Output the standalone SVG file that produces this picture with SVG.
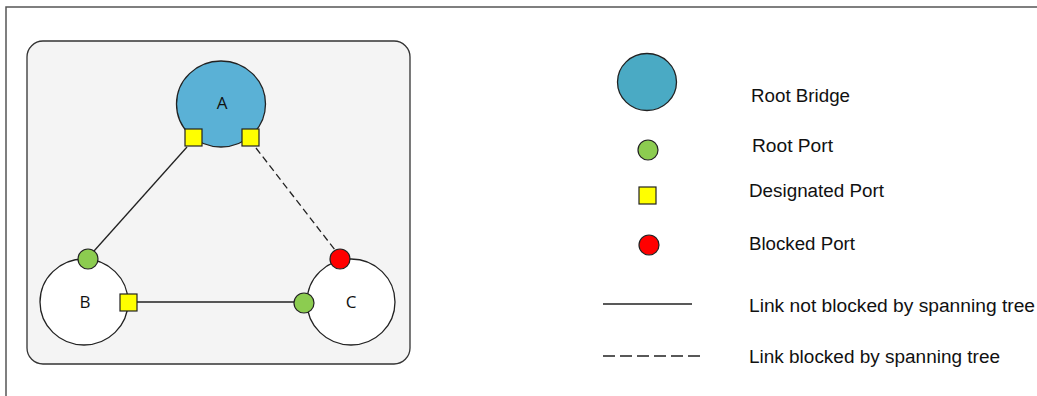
<svg xmlns="http://www.w3.org/2000/svg" width="1037" height="396" viewBox="0 0 1037 396">
<style>
.frame{fill:none;stroke:#555;stroke-width:1.5}
.panel{fill:#f4f4f4;stroke:#333;stroke-width:1.3}
.sw{fill:#fff;stroke:#222;stroke-width:1.3}
.root{fill:#5ab1d6;stroke:#222;stroke-width:1.3}
.rp{fill:#8ccc50;stroke:#222;stroke-width:1.2}
.dp{fill:#ffff00;stroke:#222;stroke-width:1.2}
.bp{fill:#ff0000;stroke:#222;stroke-width:1.2}
.link{stroke:#222;stroke-width:1.3;fill:none}
.blk{stroke:#222;stroke-width:1.3;fill:none;stroke-dasharray:7 4}
.lbl{font-family:"Open Sans","Liberation Sans",sans-serif;font-size:17px;fill:#111;text-anchor:middle}
.leg{font-family:"Liberation Sans",Arial,sans-serif;font-size:18px;fill:#111}
</style>
<path class="frame" d="M6 396 V7 H1037"/>
<rect class="panel" x="27" y="41" width="383" height="323" rx="16"/>
<g id="connectors">
<line class="link" x1="187" y1="147" x2="94" y2="251"/>
<line class="blk" x1="256" y1="148" x2="335" y2="250"/>
<line class="link" x1="137" y1="302" x2="294" y2="302"/>
</g>
<g id="nodeA">
<ellipse class="root" cx="221" cy="104" rx="44.5" ry="43"/>
<text class="lbl" x="222" y="109">A</text>
<rect class="dp" x="185" y="129" width="17" height="17"/>
<rect class="dp" x="242" y="129" width="17" height="17"/>
</g>
<g id="nodeB">
<ellipse class="sw" cx="84" cy="302" rx="44" ry="43"/>
<text class="lbl" x="85" y="308">B</text>
<circle class="rp" cx="88" cy="259" r="10"/>
<rect class="dp" x="120" y="294" width="17" height="17"/>
</g>
<g id="nodeC">
<ellipse class="sw" cx="351" cy="302" rx="44" ry="43"/>
<text class="lbl" x="351" y="308">C</text>
<circle class="bp" cx="340" cy="259" r="10"/>
<circle class="rp" cx="304" cy="303" r="10"/>
</g>
<g id="legend">
<ellipse cx="647" cy="82" rx="29.5" ry="28.5" fill="#4aaac4" stroke="#222" stroke-width="1.3"/>
<text class="leg" x="751" y="102" textLength="99" lengthAdjust="spacingAndGlyphs">Root Bridge</text>
<circle class="rp" cx="648" cy="150" r="10"/>
<text class="leg" x="752" y="152" textLength="81" lengthAdjust="spacingAndGlyphs">Root Port</text>
<rect class="dp" x="639" y="187" width="17" height="17"/>
<text class="leg" x="749" y="197" textLength="135" lengthAdjust="spacingAndGlyphs">Designated Port</text>
<circle class="bp" cx="649" cy="245" r="10"/>
<text class="leg" x="749" y="250" textLength="106" lengthAdjust="spacingAndGlyphs">Blocked Port</text>
<line class="link" x1="603" y1="304" x2="692" y2="304"/>
<text class="leg" x="749" y="312" textLength="286" lengthAdjust="spacingAndGlyphs">Link not blocked by spanning tree</text>
<line x1="603" y1="356" x2="700" y2="356" stroke="#222" stroke-width="1.5" stroke-dasharray="12 5"/>
<text class="leg" x="749" y="363" textLength="251" lengthAdjust="spacingAndGlyphs">Link blocked by spanning tree</text>
</g>
</svg>
